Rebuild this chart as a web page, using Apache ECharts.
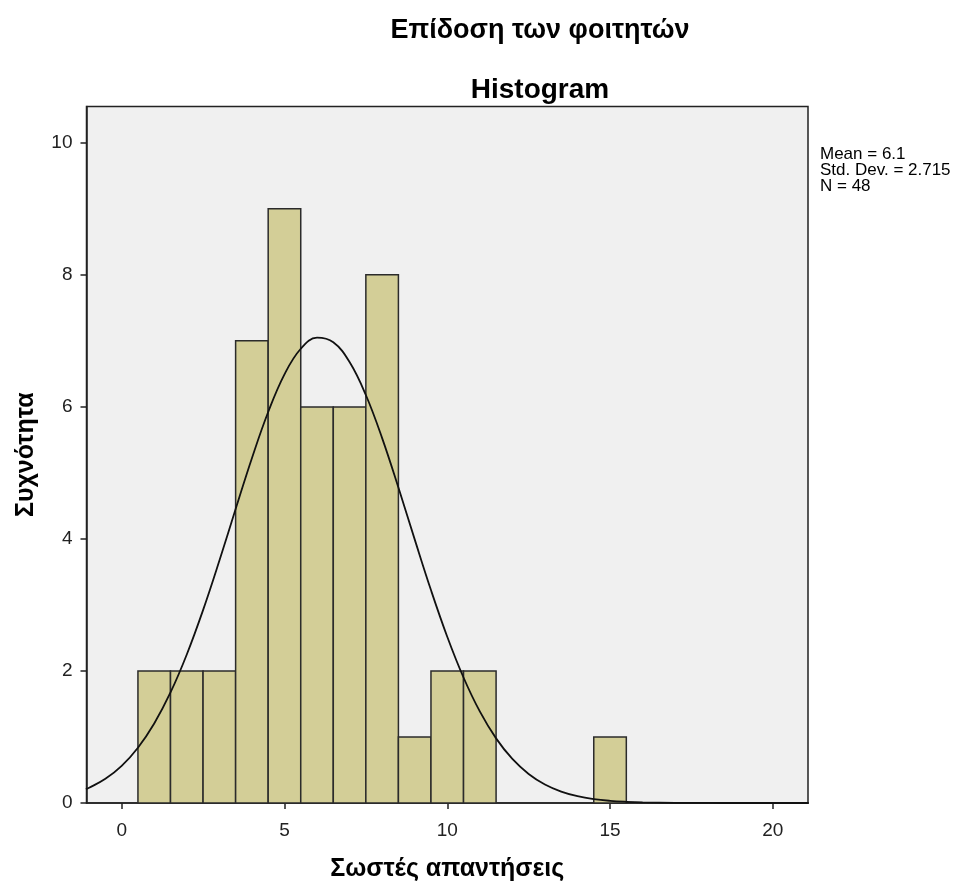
<!DOCTYPE html>
<html><head><meta charset="utf-8">
<script src="https://cdn.jsdelivr.net/npm/echarts@6/dist/echarts.min.js"></script>
<style>html,body{margin:0;padding:0;background:#fff}#c{width:971px;height:882px}</style>
</head><body><div id="c"></div>
<script>
const binCenters = [1, 2, 3, 4, 5, 6, 7, 8, 9, 10, 11, 15];
const binCounts  = [2, 2, 2, 7, 9, 6, 6, 8, 1, 2, 2, 1];
const curveX = [-1.1,-1,-0.5,0,0.5,1,1.5,2,2.5,3,3.5,4,4.5,5,5.5,6,6.5,7,7.5,8,8.5,9,9.5,10,10.5,11,11.5,12,12.5,13,13.5,14,14.5,15,15.5,16,17,18,19,20,21.1];
const curveY = [0.209,0.230,0.366,0.563,0.838,1.205,1.674,2.250,2.922,3.669,4.453,5.223,5.923,6.493,6.881,7.048,6.978,6.679,6.180,5.527,4.778,3.993,3.225,2.519,1.901,1.387,0.979,0.667,0.440,0.280,0.173,0.103,0.059,0.033,0.018,0.009,0.002,0.0005,0.0001,0,0];
const xTicks = [0, 5, 10, 15, 20];
const yTicks = [0, 2, 4, 6, 8, 10];
const statsLines = ['Mean = 6.1', 'Std. Dev. = 2.715', 'N = 48'];

const chart = echarts.init(document.getElementById('c'), null, {renderer: 'canvas'});
const FONT = 'Liberation Sans, Arial, sans-serif';
chart.setOption({
  animation: false,
  backgroundColor: '#ffffff',
  title: [
    {text: 'Επίδοση των φοιτητών', left: 535, top: 12, textAlign: 'center',
     textStyle: {fontFamily: FONT, fontSize: 27, fontWeight: 'bold', color: '#000'}},
    {text: 'Histogram', left: 535, top: 71, textAlign: 'center',
     textStyle: {fontFamily: FONT, fontSize: 28, fontWeight: 'bold', color: '#000'}}
  ],
  grid: {left: 86.5, top: 106.5, right: 163, bottom: 79, show: true,
         outerBoundsMode: 'none', containLabel: false,
         backgroundColor: '#f0f0f0', borderColor: '#222', borderWidth: 1.5},
  xAxis: {
    type: 'value', min: -1.08, max: 21.08,
    name: 'Σωστές απαντήσεις', nameLocation: 'middle', nameGap: 54,
    nameTextStyle: {fontFamily: FONT, fontSize: 25, fontWeight: 'bold', color: '#000'},
    axisLine: {show: true, onZero: false, lineStyle: {color: '#222', width: 1.5}},
    axisTick: {show: true, length: 6, lineStyle: {color: '#222', width: 1.5},
               customValues: xTicks},
    axisLabel: {fontFamily: FONT, fontSize: 19, color: '#222', margin: 18,
                customValues: xTicks},
    splitLine: {show: false}
  },
  yAxis: {
    type: 'value', min: 0, max: 10.55,
    name: 'Συχνότητα', nameLocation: 'middle', nameGap: 48,
    nameTextStyle: {fontFamily: FONT, fontSize: 25, fontWeight: 'bold', color: '#000'},
    axisLine: {show: true, onZero: false, lineStyle: {color: '#222', width: 1.5}},
    axisTick: {show: true, length: 6, lineStyle: {color: '#222', width: 1.5},
               customValues: yTicks},
    axisLabel: {fontFamily: FONT, fontSize: 19, color: '#222', margin: 14,
                customValues: yTicks},
    splitLine: {show: false}
  },
  graphic: [{
    type: 'text', left: 820, top: 146,
    style: {text: statsLines.join('\n'), fontFamily: FONT, fontSize: 17,
            lineHeight: 16, fill: '#000'}
  }],
  series: [
    {
      type: 'custom',
      data: binCenters.map((c, i) => [c - 0.5, c + 0.5, binCounts[i]]),
      encode: {x: [0, 1], y: 2},
      renderItem: function (params, api) {
        const p0 = api.coord([api.value(0), 0]);
        const p1 = api.coord([api.value(1), api.value(2)]);
        return {
          type: 'rect',
          shape: {x: p0[0], y: p1[1], width: p1[0] - p0[0], height: p0[1] - p1[1]},
          style: {fill: '#d3ce97', stroke: '#2b2b2b', lineWidth: 1.5}
        };
      },
      z: 2
    },
    {
      type: 'line', smooth: 0.4, symbol: 'none',
      data: curveX.map((x, i) => [x, curveY[i]]),
      lineStyle: {color: '#111', width: 1.8},
      z: 3, clip: true
    }
  ]
});
</script></body></html>
